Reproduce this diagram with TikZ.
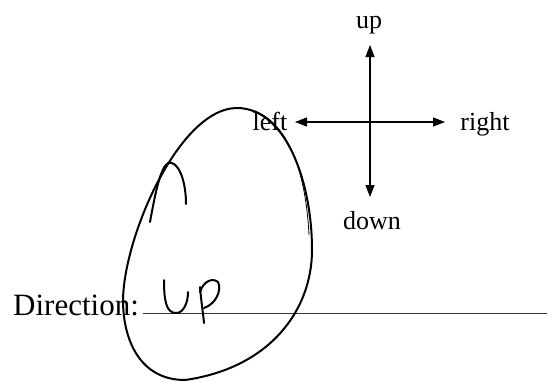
\documentclass[tikz,border=0pt]{standalone}
\usepackage{fontspec}
\setmainfont{Liberation Serif}
\usetikzlibrary{arrows.meta}
\tikzset{dirsheet/.style={x=1pt,y=-1pt},
  dirlbl/.style={font=\fontsize{26}{28}\selectfont,inner sep=0pt,anchor=base},
  dirarrow/.style={-{Triangle[width=9pt,length=12pt]},line width=1.1pt},
  pen/.style={line width=2pt,line cap=round,line join=round}}

\begin{document}
\begin{tikzpicture}[dirsheet]
    \useasboundingbox (0,0) rectangle (547,381);
    \coordinate (c) at (370,122);
    \coordinate (tipU) at (370,45);
    \coordinate (tipD) at (370,197);
    \coordinate (tipL) at (295,122);
    \coordinate (tipR) at (445,122);
    \draw[dirarrow] (c) -- (tipU);
    \draw[dirarrow] (c) -- (tipD);
    \draw[dirarrow] (c) -- (tipL);
    \draw[dirarrow] (c) -- (tipR);
    \node[dirlbl] (up) at (369,28) {up};
    \node[dirlbl] (down) at (372,229) {down};
    \node[dirlbl] (left) at (270,130) {left};
    \node[dirlbl] (right) at (485,130) {right};
    \node[font=\fontsize{31}{33}\selectfont,inner sep=0pt,anchor=base west] (dir) at (13,315) {Direction:};
    \coordinate (lineEnd) at (547,313);
    \draw[line width=0.9pt,black!80] (143,313) -- (lineEnd);
    % handwritten answer
    \draw[pen] (164,280) .. controls (164,300) and (166,313) .. (176,313)
        .. controls (184,313) and (188,302) .. (188,292);
    \draw[pen] (200,287) .. controls (201,300) and (203,312) .. (204,323);
    \draw[pen] (200,292) .. controls (203,282) and (212,277) .. (218,282)
        .. controls (222,290) and (216,304) .. (204,308);
    % circle round it
    \draw[pen] (237,108) .. controls (285,108) and (312,180) .. (312,250)
        .. controls (312,310) and (270,368) .. (185,380)
        .. controls (140,380) and (123,340) .. (123,300)
        .. controls (124,235) and (180,108) .. (237,108);
    \draw[line width=0.8pt] (255,111) .. controls (290,125) and (306,175) .. (309,235);
    \draw[pen] (150,222) .. controls (155,195) and (160,168) .. (168,163)
        .. controls (178,160) and (186,180) .. (186,204);
\end{tikzpicture}
\end{document}
